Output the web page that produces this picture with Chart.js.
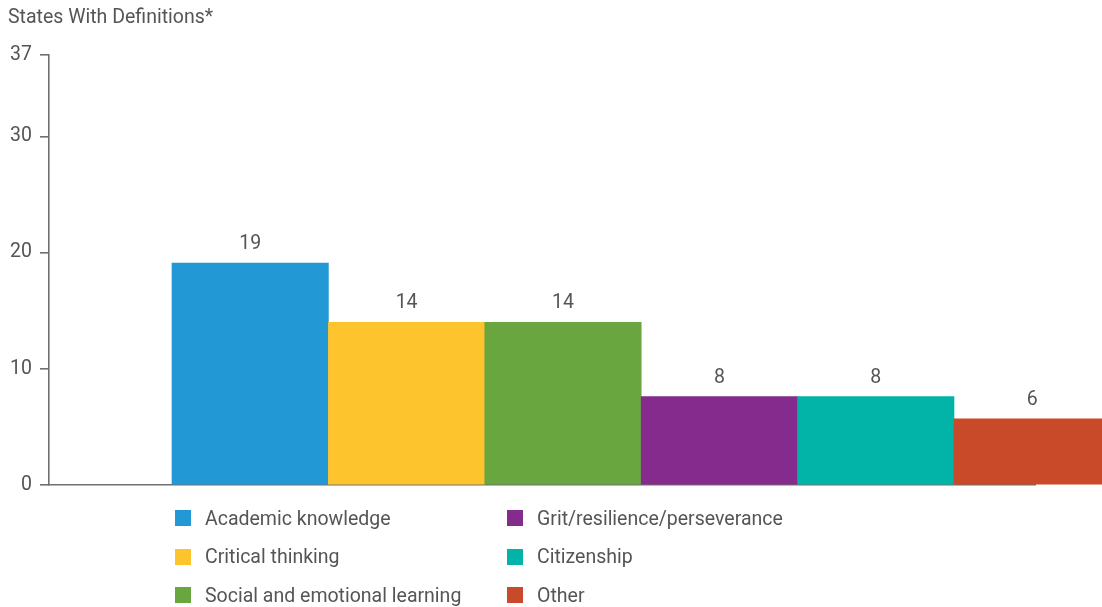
<!DOCTYPE html>
<html>
<head>
<meta charset="utf-8">
<script src="https://cdn.jsdelivr.net/npm/chart.js@4"></script>
<style>
html, body { margin: 0; padding: 0; background: #fff; overflow: hidden; }
#wrap { position: relative; width: 1102px; height: 607px; }
#chart { position: absolute; left: 0; top: 0; }
#title { position: absolute; left: 8px; top: 5px; font-family: Roboto, sans-serif; font-size: 19.5px; color: #555; white-space: nowrap; }
.leg { position: absolute; display: flex; align-items: center; font-family: Roboto, sans-serif; font-size: 19.5px; color: #555; white-space: nowrap; height: 24px; }
.leg i { display: inline-block; width: 16px; height: 16px; margin-right: 14px; }
</style>
</head>
<body>
<div id="wrap">
  <canvas id="chart" width="1102" height="607"></canvas>
  <div id="title"></div>
  <div id="legend"></div>
</div>
<script>
const titleText = 'States With Definitions*';
const categories = ['Academic knowledge', 'Critical thinking', 'Social and emotional learning', 'Grit/resilience/perseverance', 'Citizenship', 'Other'];
const values = [19.1, 14, 14, 7.6, 7.6, 5.7];
const barColors = ['#2299D5', '#FDC42E', '#6AA640', '#852B8D', '#02B4A8', '#C94A28'];
const yTicks = [0, 10, 20, 30, 37];
const legendOrder = [0, 3, 1, 4, 2, 5];

document.getElementById('title').textContent = titleText;

// HTML legend: two columns, three rows
const legend = document.getElementById('legend');
legendOrder.forEach((idx, k) => {
  const col = k % 2, row = Math.floor(k / 2);
  const d = document.createElement('div');
  d.className = 'leg';
  d.style.left = (col === 0 ? 175 : 507) + 'px';
  d.style.top = (506 + row * 38.5) + 'px';
  const sw = document.createElement('i');
  sw.style.background = barColors[idx];
  d.appendChild(sw);
  d.appendChild(document.createTextNode(categories[idx]));
  legend.appendChild(d);
});

const valueLabels = {
  id: 'valueLabels',
  afterDatasetsDraw(chart) {
    const ctx = chart.ctx;
    const meta = chart.getDatasetMeta(0);
    ctx.save();
    ctx.font = '19.5px Roboto, sans-serif';
    ctx.fillStyle = '#555';
    ctx.textAlign = 'center';
    ctx.textBaseline = 'bottom';
    meta.data.forEach((bar, i) => {
      ctx.fillText(String(Math.round(values[i])), bar.x, bar.y - 9);
    });
    ctx.restore();
  }
};

new Chart(document.getElementById('chart'), {
  type: 'bar',
  data: {
    datasets: [{
      data: values.map((v, i) => ({ x: i, y: v })),
      backgroundColor: barColors,
      borderWidth: 0,
      barPercentage: 1,
      categoryPercentage: 1,
      clip: false
    }]
  },
  options: {
    responsive: false,
    animation: false,
    devicePixelRatio: 1,
    layout: { padding: { top: 55, bottom: 122, left: 0, right: 67 } },
    plugins: { legend: { display: false }, tooltip: { enabled: false }, title: { display: false } },
    scales: {
      x: {
        type: 'linear',
        offset: false,
        min: -1.2865,
        max: 5.018,
        ticks: { display: false, stepSize: 1, includeBounds: false },
        grid: { display: true, drawOnChartArea: false, drawTicks: false, offset: false },
        border: { display: true, color: '#707070', width: 1.6 },
        afterFit: s => { s.height = 0; }
      },
      y: {
        min: 0,
        max: 37,
        afterBuildTicks: s => { s.ticks = yTicks.map(v => ({ value: v })); },
        ticks: { color: '#555', font: { family: 'Roboto, sans-serif', size: 19.5 }, padding: 8 },
        grid: { display: true, drawOnChartArea: false, drawTicks: true, tickLength: 9, color: '#707070', lineWidth: 1.6 },
        border: { display: true, color: '#707070', width: 1.6 },
        afterFit: s => { s.width = 49; }
      }
    }
  },
  plugins: [valueLabels]
});
</script>
</body>
</html>
